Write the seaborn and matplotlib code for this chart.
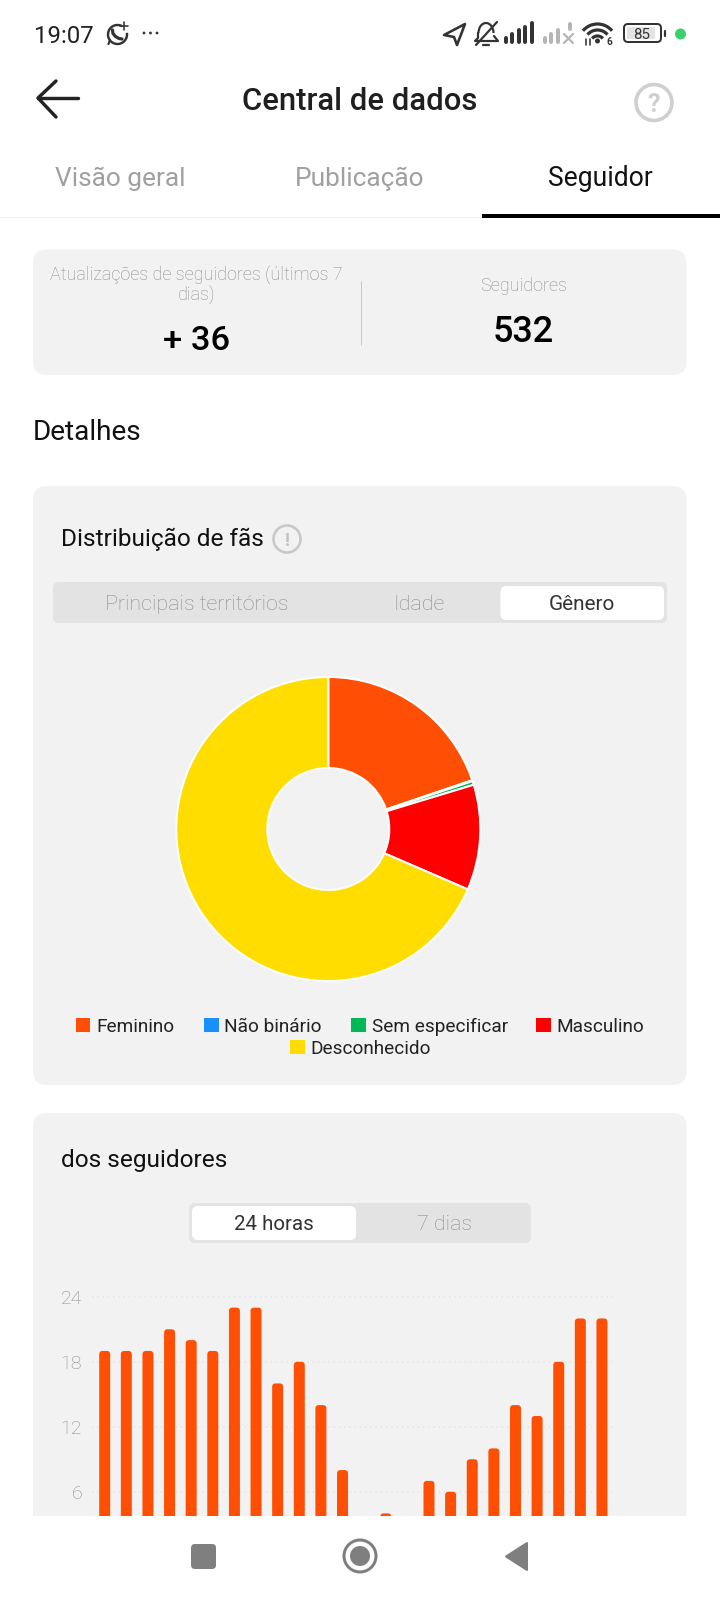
import matplotlib
matplotlib.use('Agg')
import matplotlib.pyplot as plt
from matplotlib.patches import FancyBboxPatch, Rectangle, Circle, Polygon, Arc
import seaborn as sns

# Dados
generos = ['Feminino', 'Não binário', 'Sem especificar', 'Masculino', 'Desconhecido']
fatias = [19.8, 0.1, 0.4, 11.2, 68.5]
cores = ['#ff4f05', '#1890ff', '#00b956', '#ff0000', '#ffdd00']

horas = ['0', '1', '2', '3', '4', '5', '6', '7', '8', '9', '10', '11',
         '12', '13', '14', '15', '16', '17', '18', '19', '20', '21', '22', '23']
seguidores = [19, 19, 19, 21, 20, 19, 23, 23, 16, 18, 14, 8,
              3, 4, 3, 7, 6, 9, 10, 14, 13, 18, 22, 22]
ticks_y = [6, 12, 18, 24]

sns.set_theme(style='white')
plt.rcParams['font.family'] = ['Roboto', 'DejaVu Sans']

W, H = 720, 1600
CINZA_FINO = '#8c8c8c'
fig = plt.figure(figsize=(W / 100, H / 100), dpi=100, facecolor='white')


def px(v):
    # pixels para pontos
    return v * 0.72


def eixo_px(x0, y0, x1, y1):
    return fig.add_axes([x0 / W, 1 - y1 / H, (x1 - x0) / W, (y1 - y0) / H])


bg = fig.add_axes([0, 0, 1, 1], zorder=0)
bg.set_xlim(0, W)
bg.set_ylim(H, 0)
bg.axis('off')


def caixa(x0, y0, x1, y1, r, cor, z=1):
    bg.add_patch(FancyBboxPatch((x0, y0), x1 - x0, y1 - y0,
                                boxstyle=f'round,pad=0,rounding_size={r}',
                                fc=cor, ec='none', zorder=z))


def texto(x, y, s, tam, cor='black', peso='normal', ha='center'):
    bg.text(x, y, s, fontsize=px(tam), color=cor, fontweight=peso, ha=ha,
            va='center_baseline', zorder=5)


def linha(xs, ys, cor='#222222', lw=3, z=4, cap='round'):
    bg.plot(xs, ys, color=cor, lw=px(lw), zorder=z, solid_capstyle=cap, solid_joinstyle='round')


# Barra de status
texto(34, 34, '19:07', 24, '#222222', ha='left')
bg.add_patch(Arc((117.5, 34.5), 19, 19, theta1=350, theta2=300, color='#333333', lw=px(2.4), zorder=4))
linha([112.5, 113, 115.5, 119, 122], [30, 33.5, 36.5, 38.5, 39], '#333333', 3.2)
linha([108.5, 110], [44, 40], '#333333', 2.2)
linha([123.5, 123.5], [22, 30], '#333333', 1.6)
linha([119.5, 127.5], [26, 26], '#333333', 1.6)
for xp in [144, 150.5, 157]:
    bg.add_patch(Circle((xp, 33), 1.4, fc='#333333', ec='none', zorder=4))

bg.add_patch(Polygon([[465, 24], [444, 35], [454, 37], [457, 45]], closed=True, fc='none',
                     ec='#333333', lw=px(2.6), joinstyle='round', zorder=4))
# sino
bg.add_patch(Arc((486, 33), 15, 20, theta1=180, theta2=360, color='#333333', lw=px(2.2), zorder=4))
linha([478, 478, 475, 498, 494], [33, 38, 41, 41, 36], '#333333', 2.2)
linha([476, 497], [45, 22], '#333333', 2.2)
linha([483, 489], [45, 45], '#333333', 2.2)
# sinal
for i, hb in enumerate([4, 8, 12, 15, 19]):
    xb = 506 + i * 6.4
    linha([xb, xb], [42, 42 - hb], '#333333', 4)
for i, hb in enumerate([4, 8, 12]):
    xb = 545 + i * 6.4
    linha([xb, xb], [42, 42 - hb], '#b5b5b5', 4)
linha([570, 570], [24, 29], '#b5b5b5', 4)
linha([564, 573], [34, 43], '#b5b5b5', 2.2)
linha([573, 564], [34, 43], '#b5b5b5', 2.2)
# wifi
for d in [38, 26, 14]:
    bg.add_patch(Arc((597.5, 43), d, d, theta1=220, theta2=320, color='#333333', lw=px(3.2), zorder=4))
bg.add_patch(Circle((597.5, 41), 2.5, fc='#333333', ec='none', zorder=4))
linha([586, 586], [39, 45], '#333333', 1.6)
linha([590, 590], [39, 45], '#333333', 1.6)
texto(609, 41, '6', 10, '#333333', 'bold')
# bateria
caixa(624, 24, 661, 42, 4, 'white', 3)
bg.add_patch(FancyBboxPatch((624, 24), 37, 18, boxstyle='round,pad=0,rounding_size=4',
                            fc='none', ec='#333333', lw=px(2), zorder=4))
bg.add_patch(Rectangle((627, 27), 28, 12, fc='#e4e4e4', ec='none', zorder=4))
texto(642, 33.5, '85', 15, '#333333')
linha([665, 665], [31, 36], '#333333', 2.2)
bg.add_patch(Circle((680.5, 34), 5.5, fc='#3ad06b', ec='none', zorder=4))

# Cabeçalho
linha([78, 38], [98, 98], '#222222', 3.4)
linha([56, 38, 56], [81, 98, 117], '#222222', 3.4)
texto(360, 99, 'Central de dados', 31, '#1f1f1f', 'medium')
bg.add_patch(Circle((654, 102.5), 18, fc='none', ec='#cfcfcf', lw=px(3.6), zorder=4))
texto(654, 103, '?', 25, '#cfcfcf', 'bold')

# Abas
texto(120.5, 176, 'Visão geral', 26.2, '#a0a0a0')
texto(360, 176, 'Publicação', 26.3, '#a0a0a0')
texto(600, 176, 'Seguidor', 26.5, '#111111')
bg.add_patch(Rectangle((0, 217), 482, 1, fc='#efefef', ec='none', zorder=1))
bg.add_patch(Rectangle((482, 214), 238, 4, fc='black', ec='none', zorder=2))

# Cartão de resumo
caixa(33, 249.5, 686.5, 375, 14, '#f2f2f2')
texto(196.5, 272.5, 'Atualizações de seguidores (últimos 7', 18, CINZA_FINO, 'light')
texto(196.5, 292.5, 'dias)', 18, CINZA_FINO, 'light')
texto(196.5, 338, '+ 36', 34.5, 'black', 'medium')
linha([360.5, 360.5], [281, 345], '#c8c8c8', 1, cap='butt')
texto(523.5, 284, 'Seguidores', 18, CINZA_FINO, 'light')
texto(523.5, 328, '532', 36, 'black', 'medium')
texto(33, 429.5, 'Detalhes', 28, '#111111', ha='left')

# Cartão da distribuição
caixa(33, 486, 686.5, 1085, 14, '#f2f2f2')
texto(61, 537, 'Distribuição de fãs', 24.4, '#111111', ha='left')
bg.add_patch(Circle((287, 539), 13.5, fc='none', ec='#c8c8c8', lw=px(2.6), zorder=4))
texto(287, 539, '!', 18, '#c0c0c0', 'bold')
caixa(53, 582, 667, 623, 6, '#e3e3e3', 2)
caixa(500.5, 586, 664, 620, 6, 'white', 3)
texto(196.5, 603, 'Principais territórios', 21.5, CINZA_FINO, 'light')
texto(419, 603, 'Idade', 21.5, CINZA_FINO, 'light')
texto(581.5, 603, 'Gênero', 20.8, '#333333')

# Legenda
leg_x = [75.5, 204, 351, 536, 290]
leg_y = [1025, 1025, 1025, 1025, 1047]
for xq, yq, cor, nome in zip(leg_x, leg_y, cores, generos):
    bg.add_patch(Rectangle((xq, yq - 7), 14.5, 14, fc=cor, ec='none', zorder=4))
    texto(xq + 20.5, yq, nome, 19, '#222222', ha='left')

# Cartão dos seguidores
caixa(33, 1113, 686.5, 1540, 14, '#f2f2f2')
texto(61, 1158, 'dos seguidores', 24.4, '#111111', ha='left')
caixa(189, 1203, 531, 1243, 6, '#e3e3e3', 2)
caixa(192, 1206, 356, 1240, 6, 'white', 3)
texto(274, 1223, '24 horas', 20.5, '#333333')
texto(445, 1223, '7 dias', 21.5, CINZA_FINO, 'light')

# Barra de navegação
bg.add_patch(Rectangle((0, 1516), W, 84, fc='white', ec='none', zorder=3))
caixa(191, 1544, 216, 1569, 4, '#7f7f7f', 4)
bg.add_patch(Circle((360, 1556), 16, fc='none', ec='#7f7f7f', lw=px(3), zorder=4))
bg.add_patch(Circle((360, 1556), 10, fc='#7f7f7f', ec='none', zorder=4))
bg.add_patch(Polygon([[506, 1556.5], [527, 1543], [527, 1570]], closed=True, fc='#7f7f7f',
                     ec='#7f7f7f', lw=px(2), joinstyle='round', zorder=4))

# Rosca
ax_pie = eixo_px(328.3 - 160, 829 - 160, 328.3 + 160, 829 + 160)
ax_pie.set_zorder(2)
ax_pie.pie(fatias, colors=cores, startangle=90, counterclock=False, radius=152 / 160,
           wedgeprops={'width': 91 / 160, 'edgecolor': 'white', 'linewidth': px(2)})
ax_pie.set_xlim(-1, 1)
ax_pie.set_ylim(-1, 1)
ax_pie.patch.set_visible(False)

# Barras
passo = 21.62
y_zero = 1556.7
unid = 10.83
ax_bar = eixo_px(92, 1282, 613, 1516)
ax_bar.set_zorder(2)
sns.barplot(x=horas, y=seguidores, color=cores[0], saturation=1, width=11 / passo, ax=ax_bar)
for p in list(ax_bar.patches):
    x0, w, h = p.get_x(), p.get_width(), p.get_height()
    p.remove()
    ax_bar.add_patch(FancyBboxPatch((x0, 0), w, h, boxstyle='round,pad=0,rounding_size=0.16',
                                    mutation_aspect=2, fc=cores[0], ec='none', zorder=3))
ax_bar.set_xlim((92 - 104.7) / passo, (613 - 104.7) / passo)
ax_bar.set_ylim((y_zero - 1516) / unid, (y_zero - 1282) / unid)
ax_bar.set_yticks(ticks_y)
ax_bar.set_yticklabels([str(t) for t in ticks_y], fontsize=px(19.5), color=CINZA_FINO,
                       fontweight='light', va='center_baseline')
ax_bar.set_xticks([])
ax_bar.set_xlabel('')
ax_bar.set_ylabel('')
ax_bar.tick_params(axis='y', length=0, pad=px(10))
ax_bar.yaxis.grid(True, color='#e4e4e4', linestyle=(0, (1, 2.5)), linewidth=px(1.5))
ax_bar.set_axisbelow(True)
ax_bar.patch.set_visible(False)
sns.despine(ax=ax_bar, left=True, bottom=True)

fig.savefig('out.png', dpi=100, facecolor='white')
